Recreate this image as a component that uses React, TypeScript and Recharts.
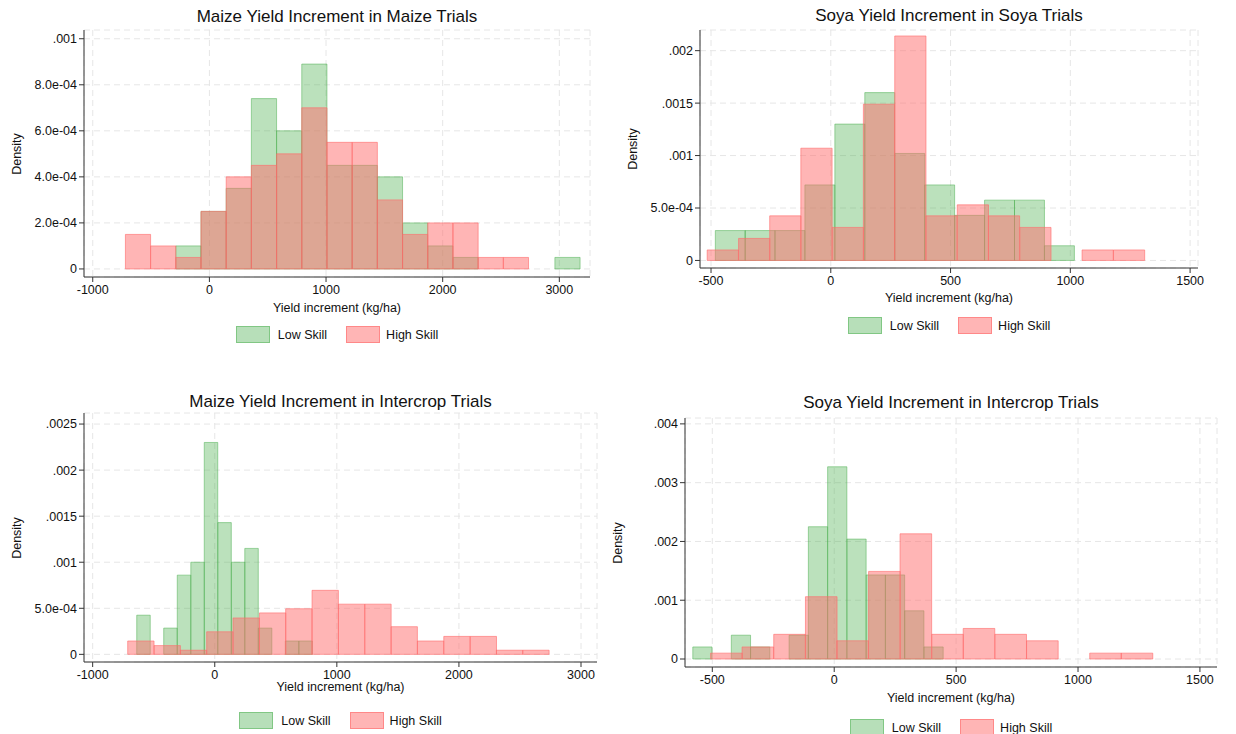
import React from "react";
import { ComposedChart, XAxis, YAxis, CartesianGrid, ReferenceArea } from "recharts";

// Maize yield increment, maize trials (bin width 216)
const p1RedEdges = [-720, -504, -288, -72, 144, 360, 576, 792, 1008, 1224, 1440, 1656, 1872, 2088, 2304, 2520];
const p1RedDens = [1.5e-4, 1.0e-4, 0.5e-4, 2.5e-4, 4.0e-4, 4.5e-4, 5.0e-4, 7.0e-4, 5.5e-4, 5.5e-4, 3.0e-4, 1.5e-4, 2.0e-4, 2.0e-4, 0.5e-4, 0.5e-4];
const p1GreenEdges = [-288, -72, 144, 360, 576, 792, 1008, 1224, 1440, 1656, 1872, 2088, 2962];
const p1GreenDens = [1.0e-4, 2.5e-4, 3.5e-4, 7.4e-4, 6.0e-4, 8.9e-4, 4.5e-4, 4.5e-4, 4.0e-4, 2.0e-4, 1.0e-4, 0.5e-4, 0.5e-4];

// Soya yield increment, soya trials
const p2RedEdges = [-516, -385, -255, -125, 6, 136, 267, 397, 528, 658, 789, 1049, 1180];
const p2RedDens = [1.0e-4, 2.1e-4, 4.25e-4, 1.07e-3, 3.15e-4, 1.49e-3, 2.14e-3, 4.25e-4, 5.3e-4, 4.25e-4, 3.15e-4, 1.0e-4, 1.0e-4];
const p2GreenEdges = [-482, -358, -233, -108, 17, 142, 267, 392, 517, 642, 767, 892];
const p2GreenDens = [2.85e-4, 2.85e-4, 2.85e-4, 7.2e-4, 1.3e-3, 1.6e-3, 1.02e-3, 7.2e-4, 4.3e-4, 5.75e-4, 5.75e-4, 1.4e-4];

// Maize yield increment, intercrop trials
const p3RedEdges = [-713, -497, -282, -66, 150, 366, 581, 797, 1013, 1229, 1444, 1660, 1876, 2092, 2307, 2523];
const p3RedDens = [1.45e-4, 0.95e-4, 0.45e-4, 2.45e-4, 3.95e-4, 4.5e-4, 4.95e-4, 6.95e-4, 5.45e-4, 5.45e-4, 3.0e-4, 1.45e-4, 1.95e-4, 1.95e-4, 0.45e-4, 0.45e-4];
const p3GreenEdges = [-639, -418, -307, -196, -86, 25, 136, 246, 357, 578, 689];
const p3GreenDens = [4.25e-4, 2.85e-4, 8.6e-4, 1.0e-3, 2.3e-3, 1.43e-3, 1.0e-3, 1.15e-3, 2.85e-4, 1.45e-4, 1.45e-4];

// Soya yield increment, intercrop trials
const p4RedEdges = [-507, -378, -248, -118, 11, 141, 270, 400, 529, 659, 789, 1048, 1177];
const p4RedDens = [1.0e-4, 2.05e-4, 4.2e-4, 1.06e-3, 3.1e-4, 1.49e-3, 2.13e-3, 4.2e-4, 5.2e-4, 4.2e-4, 3.1e-4, 1.0e-4, 1.0e-4];
const p4GreenEdges = [-580, -422, -343, -185, -106, -27, 52, 131, 210, 289, 368];
const p4GreenDens = [2.05e-4, 4.05e-4, 2.05e-4, 4.05e-4, 2.25e-3, 3.27e-3, 2.04e-3, 1.43e-3, 1.43e-3, 8.2e-4, 2.05e-4];

const FONT = "Arial, 'Liberation Sans', sans-serif";
const GREEN = "#4caf50";
const RED = "#ff6b6b";

type PanelProps = {
  title: string;
  plot: { left: number; top: number; right: number; bottom: number };
  xDomain: [number, number];
  yDomain: [number, number];
  xTicks: number[];
  yTicks: number[];
  yLabels: string[];
  redEdges: number[];
  redDens: number[];
  redWidth: number;
  greenEdges: number[];
  greenDens: number[];
  greenWidth: number;
  titleY: number;
  xLabelY: number;
  legendY: number;
};

function Panel(p: PanelProps) {
  const yw = 60;
  const mr = 10;
  const mt = 10;
  const xh = 26;
  const w = p.plot.right - p.plot.left + yw + mr;
  const h = p.plot.bottom - p.plot.top + mt + xh;
  const cx = (p.plot.left + p.plot.right) / 2;
  return (
    <>
      <div style={{ position: "absolute", left: cx - 300, width: 600, top: p.titleY - 11, textAlign: "center", fontSize: 17, color: "#111" }}>
        {p.title}
      </div>
      <div style={{ position: "absolute", left: p.plot.left - yw, top: p.plot.top - mt }}>
        <ComposedChart width={w} height={h} margin={{ top: mt, right: mr, bottom: 0, left: 0 }}>
          <CartesianGrid stroke="#e6e6e6" strokeDasharray="6 4" />
          <XAxis
            type="number"
            dataKey="x"
            domain={p.xDomain}
            ticks={p.xTicks}
            allowDataOverflow
            height={xh}
            stroke="#333"
            tick={{ fill: "#111", fontSize: 12.5 }}
            tickSize={5}
            tickMargin={3}
          />
          <YAxis
            type="number"
            domain={p.yDomain}
            ticks={p.yTicks}
            allowDataOverflow
            width={yw}
            stroke="#333"
            tick={{ fill: "#111", fontSize: 12.5 }}
            tickSize={5}
            tickFormatter={(v: number) => p.yLabels[p.yTicks.indexOf(v)] ?? ""}
          />
          {p.greenEdges.map((e, i) => (
            <ReferenceArea
              key={"g" + i}
              x1={e}
              x2={e + p.greenWidth}
              y1={0}
              y2={p.greenDens[i]}
              fill={GREEN}
              fillOpacity={0.38}
              stroke={GREEN}
              strokeOpacity={0.5}
              ifOverflow="visible"
            />
          ))}
          {p.redEdges.map((e, i) => (
            <ReferenceArea
              key={"r" + i}
              x1={e}
              x2={e + p.redWidth}
              y1={0}
              y2={p.redDens[i]}
              fill={RED}
              fillOpacity={0.5}
              stroke={RED}
              strokeOpacity={0.6}
              ifOverflow="visible"
            />
          ))}
        </ComposedChart>
      </div>
      <div
        style={{
          position: "absolute",
          left: p.plot.left - 67,
          top: (p.plot.top + p.plot.bottom) / 2,
          transform: "translate(-50%,-50%) rotate(-90deg)",
          fontSize: 12.5,
          color: "#111",
        }}
      >
        Density
      </div>
      <div style={{ position: "absolute", left: cx - 200, width: 400, top: p.xLabelY - 8, textAlign: "center", fontSize: 12.5, color: "#111" }}>
        Yield increment (kg/ha)
      </div>
      <div style={{ position: "absolute", left: cx - 200, width: 400, top: p.legendY - 8, display: "flex", justifyContent: "center", alignItems: "center", fontSize: 12.5, color: "#111" }}>
        <span style={{ width: 32, height: 15, background: "rgba(76,175,80,0.4)", border: "1px solid rgba(76,175,80,0.5)", marginRight: 8 }} />
        <span style={{ marginRight: 19 }}>Low Skill</span>
        <span style={{ width: 32, height: 15, background: "rgba(255,107,107,0.5)", border: "1px solid rgba(255,107,107,0.6)", marginRight: 6 }} />
        <span>High Skill</span>
      </div>
    </>
  );
}

export default function App() {
  return (
    <div style={{ position: "absolute", left: 0, top: 0, width: 1236, height: 734, background: "#fff", fontFamily: FONT, overflow: "hidden" }}>
      <Panel
        title="Maize Yield Increment in Maize Trials"
        plot={{ left: 84, top: 30, right: 590, bottom: 277 }}
        xDomain={[-1075, 3263]}
        yDomain={[-0.000035, 0.001038]}
        xTicks={[-1000, 0, 1000, 2000, 3000]}
        yTicks={[0, 0.0002, 0.0004, 0.0006, 0.0008, 0.001]}
        yLabels={["0", "2.0e-04", "4.0e-04", "6.0e-04", "8.0e-04", ".001"]}
        redEdges={p1RedEdges}
        redDens={p1RedDens}
        redWidth={216}
        greenEdges={p1GreenEdges}
        greenDens={p1GreenDens}
        greenWidth={216}
        titleY={18}
        xLabelY={309}
        legendY={334}
      />
      <Panel
        title="Soya Yield Increment in Soya Trials"
        plot={{ left: 700, top: 30, right: 1198, bottom: 268 }}
        xDomain={[-546, 1533]}
        yDomain={[-0.000072, 0.002197]}
        xTicks={[-500, 0, 500, 1000, 1500]}
        yTicks={[0, 0.0005, 0.001, 0.0015, 0.002]}
        yLabels={["0", "5.0e-04", ".001", ".0015", ".002"]}
        redEdges={p2RedEdges}
        redDens={p2RedDens}
        redWidth={130.4}
        greenEdges={p2GreenEdges}
        greenDens={p2GreenDens}
        greenWidth={125}
        titleY={17}
        xLabelY={299}
        legendY={325}
      />
      <Panel
        title="Maize Yield Increment in Intercrop Trials"
        plot={{ left: 84, top: 413, right: 597, bottom: 662 }}
        xDomain={[-1071, 3131]}
        yDomain={[-0.000083, 0.00262]}
        xTicks={[-1000, 0, 1000, 2000, 3000]}
        yTicks={[0, 0.0005, 0.001, 0.0015, 0.002, 0.0025]}
        yLabels={["0", "5.0e-04", ".001", ".0015", ".002", ".0025"]}
        redEdges={p3RedEdges}
        redDens={p3RedDens}
        redWidth={215.7}
        greenEdges={p3GreenEdges}
        greenDens={p3GreenDens}
        greenWidth={110.6}
        titleY={403}
        xLabelY={688}
        legendY={720}
      />
      <Panel
        title="Soya Yield Increment in Intercrop Trials"
        plot={{ left: 685, top: 418, right: 1217, bottom: 667 }}
        xDomain={[-612, 1570]}
        yDomain={[-0.000136, 0.0041]}
        xTicks={[-500, 0, 500, 1000, 1500]}
        yTicks={[0, 0.001, 0.002, 0.003, 0.004]}
        yLabels={["0", ".001", ".002", ".003", ".004"]}
        redEdges={p4RedEdges}
        redDens={p4RedDens}
        redWidth={129.6}
        greenEdges={p4GreenEdges}
        greenDens={p4GreenDens}
        greenWidth={78.9}
        titleY={404}
        xLabelY={699}
        legendY={727}
      />
    </div>
  );
}
